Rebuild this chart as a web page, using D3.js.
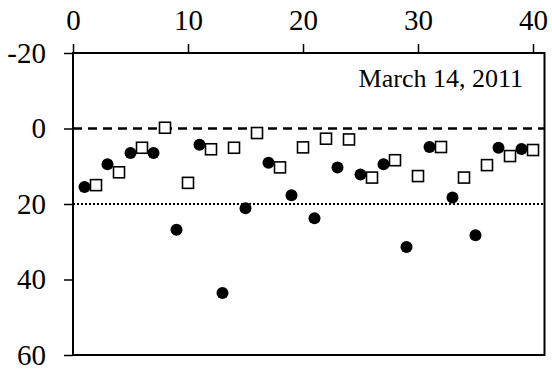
<!DOCTYPE html>
<html>
<head>
<meta charset="utf-8">
<script src="https://cdn.jsdelivr.net/npm/d3@7"></script>
<style>
  html, body { margin: 0; padding: 0; background: #fff; }
  svg text { font-family: "Liberation Serif", "Times New Roman", serif; fill: #000; }
</style>
</head>
<body>
<svg id="chart" width="552" height="372"></svg>
<script>
// Sample index along the top axis
const oddIdx  = [1, 3, 5, 7, 9, 11, 13, 15, 17, 19, 21, 23, 25, 27, 29, 31, 33, 35, 37, 39];
const evenIdx = [2, 4, 6, 8, 10, 12, 14, 16, 18, 20, 22, 24, 26, 28, 30, 32, 34, 36, 38, 40];
// Filled-circle series (odd samples)
const circleVals = [15.5, 9.5, 6.5, 6.5, 26.8, 4.3, 43.6, 21.1, 9.1, 17.7,
                    23.8, 10.3, 12.2, 9.5, 31.4, 4.9, 18.3, 28.3, 5.1, 5.4];
// Open-square series (even samples)
const squareVals = [15.0, 11.6, 5.1, -0.2, 14.4, 5.5, 5.1, 1.2, 10.3, 5.0,
                    2.7, 2.9, 13.0, 8.4, 12.6, 4.9, 13.0, 9.7, 7.3, 5.7];
const xTicks = [0, 10, 20, 30, 40];
const yTicks = [-20, 0, 20, 40, 60];
const refDashed = 0;
const refDotted = 20;
const dateLabel = "March 14, 2011";

const svg = d3.select("#chart");
const x = d3.scaleLinear().domain([0, 41]).range([73, 544.5]);
const y = d3.scaleLinear().domain([-20, 60]).range([53, 355]);
const plain = d => String(d);   // hyphen-minus for negatives

// Frame
svg.append("rect")
  .attr("x", x(0)).attr("y", y(-20))
  .attr("width", x(41) - x(0)).attr("height", y(60) - y(-20))
  .attr("fill", "none").attr("stroke", "#000").attr("stroke-width", 2);

// Top axis
const gx = svg.append("g").attr("transform", `translate(0,${y(-20)})`)
  .call(d3.axisTop(x).tickValues(xTicks).tickFormat(plain).tickSize(9).tickPadding(14).tickSizeOuter(0));
gx.select(".domain").remove();
gx.selectAll(".tick line").attr("stroke", "#000").attr("stroke-width", 1.5);
gx.selectAll(".tick text").attr("font-size", 29).attr("font-family", "Liberation Serif");

// Left axis
const gy = svg.append("g").attr("transform", `translate(${x(0)},0)`)
  .call(d3.axisLeft(y).tickValues(yTicks).tickFormat(plain).tickSize(9).tickPadding(18).tickSizeOuter(0));
gy.select(".domain").remove();
gy.selectAll(".tick line").attr("stroke", "#000").attr("stroke-width", 1.5);
gy.selectAll(".tick text").attr("font-size", 29).attr("font-family", "Liberation Serif");

// Reference lines
svg.append("line")
  .attr("x1", x(0)).attr("x2", x(41))
  .attr("y1", y(refDashed)).attr("y2", y(refDashed))
  .attr("stroke", "#000").attr("stroke-width", 2.6).attr("stroke-dasharray", "9,6");
svg.append("line")
  .attr("x1", x(0)).attr("x2", x(41))
  .attr("y1", y(refDotted)).attr("y2", y(refDotted))
  .attr("stroke", "#000").attr("stroke-width", 2).attr("stroke-dasharray", "2,2");

// Open squares
const side = 11;
svg.append("g").selectAll("rect")
  .data(evenIdx.map((d, i) => [d, squareVals[i]]))
  .join("rect")
  .attr("x", d => x(d[0]) - side / 2).attr("y", d => y(d[1]) - side / 2)
  .attr("width", side).attr("height", side)
  .attr("fill", "#fff").attr("stroke", "#000").attr("stroke-width", 1.6);

// Filled circles
svg.append("g").selectAll("circle")
  .data(oddIdx.map((d, i) => [d, circleVals[i]]))
  .join("circle")
  .attr("cx", d => x(d[0])).attr("cy", d => y(d[1]))
  .attr("r", 6).attr("fill", "#000");

// Date annotation
svg.append("text")
  .attr("x", 523).attr("y", 87)
  .attr("text-anchor", "end").attr("font-size", 26)
  .text(dateLabel);
</script>
</body>
</html>
